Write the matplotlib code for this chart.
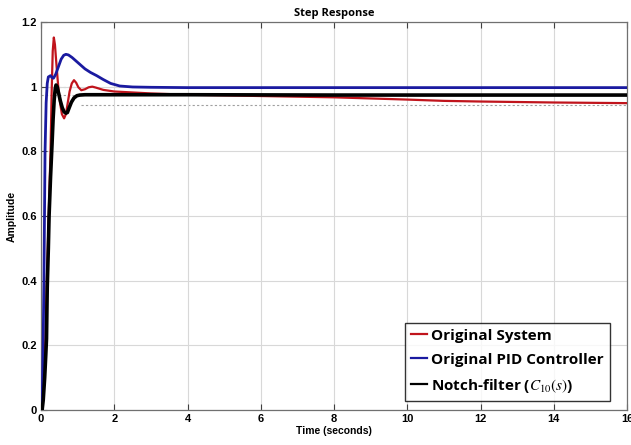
import matplotlib
matplotlib.use("Agg")
import matplotlib.pyplot as plt

# ---- data ----
t_red = [0, 0.03, 0.06, 0.09, 0.12, 0.16, 0.21, 0.26, 0.29, 0.32, 0.35, 0.38, 0.42, 0.47,
         0.52, 0.57, 0.63, 0.68, 0.73, 0.78, 0.84, 0.90, 0.96, 1.02, 1.10, 1.20, 1.30,
         1.40, 1.50, 1.70, 2.0, 3.0, 4.0, 6.0, 8.0, 10.0, 11.0, 12.0, 14.0, 16.0]
v_red = [0, 0.02, 0.07, 0.14, 0.22, 0.40, 0.60, 0.80, 0.98, 1.11, 1.152, 1.13, 1.07, 1.00,
         0.95, 0.915, 0.902, 0.915, 0.95, 0.985, 1.01, 1.02, 1.012, 0.998, 0.989, 0.992, 0.998,
         1.0, 0.997, 0.99, 0.985, 0.979, 0.975, 0.971, 0.967, 0.960, 0.956, 0.954, 0.951, 0.949]

t_blue = [0, 0.02, 0.04, 0.06, 0.08, 0.095, 0.11, 0.14, 0.17, 0.20, 0.26, 0.30, 0.34, 0.40,
          0.47, 0.55, 0.62, 0.68, 0.75, 0.85, 0.95, 1.05, 1.20, 1.35, 1.52, 1.70, 1.90,
          2.15, 2.5, 3.0, 4.0, 8.0, 16.0]
v_blue = [0, 0.01, 0.08, 0.22, 0.40, 0.60, 0.80, 0.95, 1.01, 1.03, 1.034, 1.028, 1.026, 1.038,
          1.06, 1.085, 1.097, 1.10, 1.098, 1.09, 1.08, 1.07, 1.055, 1.044, 1.034, 1.022, 1.01,
          1.002, 0.999, 0.998, 0.997, 0.997, 0.997]

t_black = [0, 0.03, 0.06, 0.10, 0.13, 0.15, 0.17, 0.20, 0.22, 0.26, 0.30, 0.33, 0.36, 0.39,
           0.41, 0.44, 0.48, 0.53, 0.58, 0.63, 0.68, 0.72, 0.77, 0.83, 0.90, 0.98, 1.06,
           1.2, 1.5, 2.0, 4.0, 8.0, 16.0]
v_black = [0, 0.0, 0.03, 0.10, 0.17, 0.22, 0.38, 0.50, 0.60, 0.72, 0.82, 0.90, 0.96, 0.995,
           1.005, 1.0, 0.98, 0.955, 0.935, 0.922, 0.918, 0.92, 0.935, 0.952, 0.965, 0.972, 0.974,
           0.975, 0.975, 0.975, 0.975, 0.974, 0.974]

# dotted reference (settling) lines
ref_levels = [1.0, 0.975, 0.943]
ref_start = [0.0, 0.0, 1.1]
ref_end = [1.0, 1.1, 16.0]

labels = ["Original System", "Original PID Controller", r"Notch-filter ($C_{10}(s)$)"]
colors = ["#c0141c", "#1a1aa0", "#000000"]

xticks = [0, 2, 4, 6, 8, 10, 12, 14, 16]
yticks = [0, 0.2, 0.4, 0.6, 0.8, 1.0, 1.2]
yticklabels = ["0", "0.2", "0.4", "0.6", "0.8", "1", "1.2"]

plt.rcParams["mathtext.fontset"] = "stix"

fig = plt.figure(figsize=(6.31, 4.45), dpi=100)
ax = fig.add_axes([0.065, 0.0787, 0.9287, 0.8719])

for lvl, s, e in zip(ref_levels, ref_start, ref_end):
    ax.plot([s, e], [lvl, lvl], linestyle=(0, (2, 2)), color="#a0a0a0", linewidth=0.8, zorder=1)

ax.plot(t_red, v_red, color=colors[0], linewidth=1.6, label=labels[0], zorder=3)
ax.plot(t_blue, v_blue, color=colors[1], linewidth=2.0, label=labels[1], zorder=3)
ax.plot(t_black, v_black, color=colors[2], linewidth=2.6, label=labels[2], zorder=4)

ax.set_xlim(0, 16)
ax.set_ylim(0, 1.2)
ax.set_xticks(xticks)
ax.set_yticks(yticks)
ax.set_xticklabels([str(x) for x in xticks], fontsize=8, fontweight="bold",
                   fontfamily="Liberation Sans")
ax.set_yticklabels(yticklabels, fontsize=8, fontweight="bold", fontfamily="Liberation Sans")
ax.tick_params(direction="in", length=4, width=0.8, color="#404040", pad=3, top=True, right=False)
ax.grid(True, color="#d8d8d8", linewidth=0.8)
for sp in ax.spines.values():
    sp.set_color("#707070")
    sp.set_linewidth(0.9)

ax.set_title("Step Response", fontsize=8, fontweight="bold", fontfamily="Open Sans", pad=4)
ax.set_xlabel("Time (seconds)", fontsize=7.5, fontweight="bold", fontfamily="Liberation Sans",
              labelpad=1)
ax.set_ylabel("Amplitude", fontsize=7.5, fontweight="bold", fontfamily="Liberation Sans",
              labelpad=3)

leg = ax.legend(loc="lower right", bbox_to_anchor=(0.971, 0.024),
                prop={"family": "Open Sans", "weight": "bold", "size": 11},
                handlelength=1.0, handletextpad=0.3, borderpad=0.4, labelspacing=0.65,
                frameon=True, fancybox=False, borderaxespad=0)
leg.get_frame().set_edgecolor("black")
leg.get_frame().set_linewidth(1.0)
for h in leg.get_lines():
    h.set_linewidth(1.6)

fig.savefig("out.png", dpi=100)
